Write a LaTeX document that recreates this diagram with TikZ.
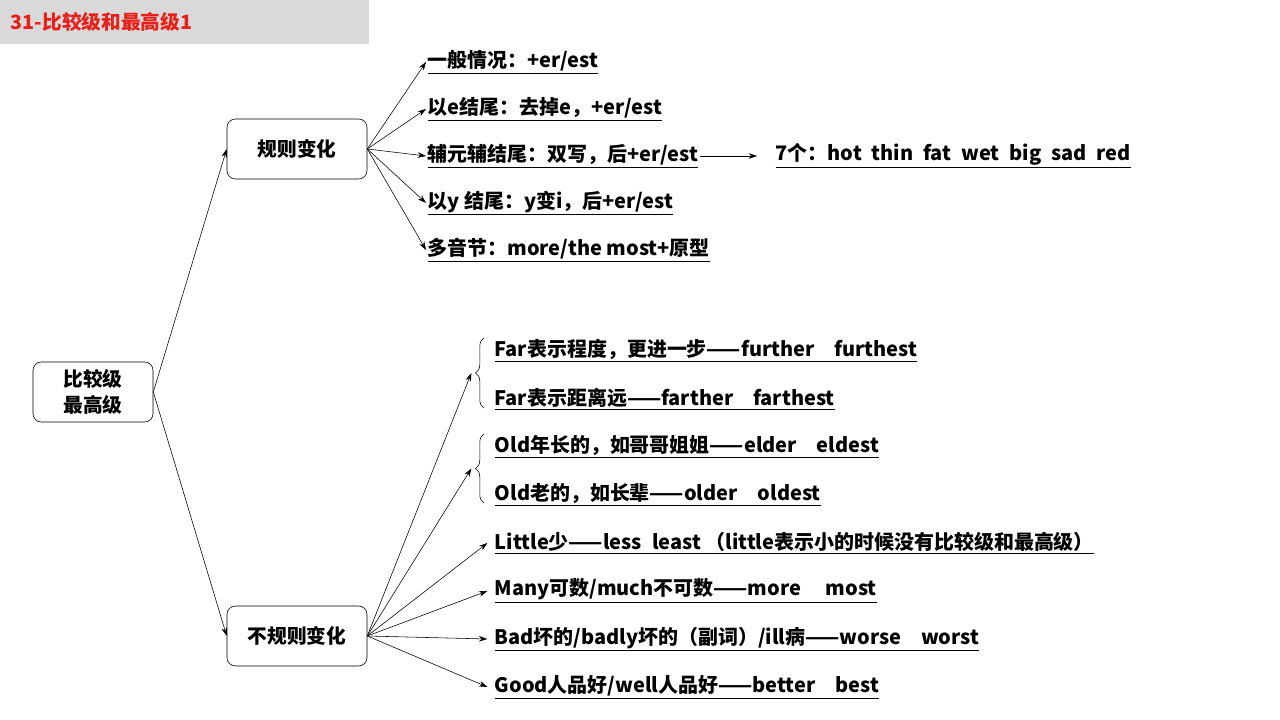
\documentclass[tikz,border=0pt]{standalone}
\usepackage{fontspec}
\setmainfont{Noto Sans CJK SC}
\usetikzlibrary{arrows.meta, positioning, decorations.pathreplacing}
\definecolor{TitleGray}{HTML}{D9D9D9}
\definecolor{TitleRed}{HTML}{E8201A}
\tikzset{
  topicbox/.style={rectangle, rounded corners=6pt, draw=black, fill=white, minimum width=3.5cm, minimum height=1.5cm, font=\fontsize{14}{18}\selectfont\bfseries, align=center},
  rootbox/.style={topicbox, minimum width=3cm},
  item/.style={anchor=west, inner sep=1pt, font=\fontsize{14.2}{18}\selectfont\bfseries},
  arrow/.style={-{Stealth[length=6pt,width=4pt]}, thin},
  bracket/.style={thin, decorate, decoration={brace, amplitude=6pt}}
}
\begin{document}
\begin{tikzpicture}[x=0.025cm, y=-0.025cm]
  \useasboundingbox (0,0) rectangle (1280,720);
  \fill[TitleGray] (0,0) rectangle (369,44);
  \node[anchor=west, text=TitleRed, font=\fontsize{14}{17}\selectfont\bfseries] (title) at (6,22) {31-比较级和最高级1};

  \node[rootbox] (root) at (93,392) {比较级\\最高级};
  \node[topicbox] (reg) at (297,149) {规则变化};
  \node[topicbox] (irr) at (297,636) {不规则变化};
  \draw[arrow] (root.east) -- (reg.west);
  \draw[arrow] (root.east) -- (irr.west);

  % regular
  \node[item] (r1) at (426,62) {\underline{一般情况：+er/est}};
  \node[item] (r2) at (426,109) {\underline{以e结尾：去掉e，+er/est}};
  \node[item] (r3) at (426,156) {\underline{辅元辅结尾：双写，后+er/est}};
  \node[item] (r4) at (426,203) {\underline{以y 结尾：y变i，后+er/est}};
  \node[item] (r5) at (426,250) {\underline{多音节：more/the most+原型}};
  \node[item] (r6) at (774,156) {\underline{7个：hot\enspace thin\enspace fat\enspace wet\enspace big\enspace sad\enspace red}};
  \foreach \n in {r1,r2,r3,r4,r5}
    \draw[arrow] (reg.east) -- (\n.west);
  \draw[arrow] (r3.east) -- ([xshift=-12pt]r6.west);

  % irregular
  \node[item] (i1) at (493,351) {\underline{Far表示程度，更进一步——further\quad furthest}};
  \node[item] (i2) at (493,399) {\underline{Far表示距离远——farther\quad farthest}};
  \node[item] (i3) at (493,447) {\underline{Old年长的，如哥哥姐姐——elder\quad eldest}};
  \node[item] (i4) at (493,495) {\underline{Old老的，如长辈——older\quad oldest}};
  \node[item] (i5) at (493,543) {\underline{Little少——less\enspace least （little表示小的时候没有比较级和最高级）}};
  \node[item] (i6) at (493,591) {\underline{Many可数/much不可数——more\quad\ most}};
  \node[item] (i7) at (493,639) {\underline{Bad坏的/badly坏的（副词）/ill病——worse\quad worst}};
  \node[item] (i8) at (493,687) {\underline{Good人品好/well人品好——better\quad best}};
  \draw[bracket] (484,408) -- (484,338) coordinate[midway, xshift=-9pt] (b1);
  \draw[bracket] (484,503) -- (484,434) coordinate[midway, xshift=-9pt] (b2);
  \draw[arrow] (irr.east) -- (b1);
  \draw[arrow] (irr.east) -- (b2);
  \foreach \n in {i5,i6,i7,i8}
    \draw[arrow] (irr.east) -- ([xshift=-4pt]\n.west);
\end{tikzpicture}
\end{document}
